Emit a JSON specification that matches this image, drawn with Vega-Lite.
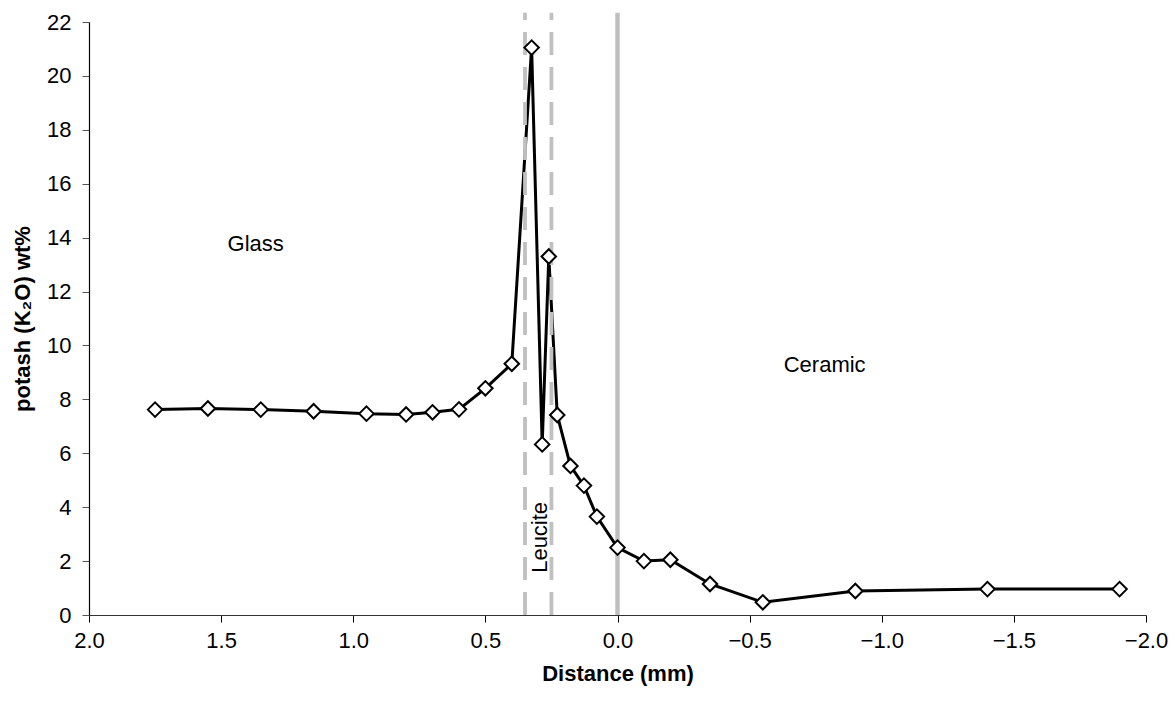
{
  "$schema": "https://vega.github.io/schema/vega-lite/v6.json",
  "width": 1057,
  "height": 593,
  "autosize": {"type": "none"},
  "padding": {"left": 89, "top": 22, "right": 30, "bottom": 89},
  "background": "white",
  "config": {
    "view": {"stroke": null},
    "font": "Liberation Sans",
    "text": {"font": "Liberation Sans"}
  },
  "datasets": {
    "points": [
      {"x": 1.75, "y": 7.62},
      {"x": 1.55, "y": 7.66},
      {"x": 1.35, "y": 7.62},
      {"x": 1.15, "y": 7.56},
      {"x": 0.95, "y": 7.47},
      {"x": 0.8, "y": 7.44},
      {"x": 0.7, "y": 7.52},
      {"x": 0.6, "y": 7.63},
      {"x": 0.5, "y": 8.41},
      {"x": 0.4, "y": 9.32},
      {"x": 0.325, "y": 21.05},
      {"x": 0.285, "y": 6.33},
      {"x": 0.26, "y": 13.3},
      {"x": 0.228, "y": 7.42},
      {"x": 0.178, "y": 5.53},
      {"x": 0.127, "y": 4.8},
      {"x": 0.078, "y": 3.65},
      {"x": 0.0, "y": 2.5},
      {"x": -0.1, "y": 2.0},
      {"x": -0.2, "y": 2.05},
      {"x": -0.35, "y": 1.15},
      {"x": -0.55, "y": 0.47},
      {"x": -0.9, "y": 0.89},
      {"x": -1.4, "y": 0.96},
      {"x": -1.9, "y": 0.96}
    ],
    "rules": [
      {"x": 0.35, "y": 0, "y2": 22.34, "kind": "dashed"},
      {"x": 0.25, "y": 0, "y2": 22.34, "kind": "dashed"},
      {"x": 0.0, "y": 0, "y2": 22.34, "kind": "solid"}
    ],
    "labels": [
      {"x": 1.369, "y": 13.52, "label": "Glass"},
      {"x": -0.784, "y": 9.03, "label": "Ceramic"}
    ],
    "vlabels": [
      {"x": 0.265, "y": 2.88, "label": "Leucite"}
    ]
  },
  "encoding": {
    "x": {
      "field": "x",
      "type": "quantitative",
      "scale": {"domain": [-2, 2], "reverse": true, "nice": false, "zero": false},
      "axis": {
        "title": "Distance (mm)",
        "values": [-2, -1.5, -1, -0.5, 0, 0.5, 1, 1.5, 2],
        "format": ".1f",
        "grid": false,
        "labelFlush": false,
        "labelOverlap": false,
        "labelFont": "Liberation Sans",
        "labelFontSize": 22,
        "labelColor": "#000000",
        "labelPadding": 8,
        "tickSize": 7,
        "tickColor": "#000000",
        "domainColor": "#333333",
        "domainWidth": 1.2,
        "titleFont": "Liberation Sans",
        "titleFontSize": 22,
        "titleFontWeight": "bold",
        "titleColor": "#000000",
        "titlePadding": 12
      }
    },
    "y": {
      "field": "y",
      "type": "quantitative",
      "scale": {"domain": [0, 22], "nice": false, "zero": true},
      "axis": {
        "title": "potash (K₂O) wt%",
        "values": [0, 2, 4, 6, 8, 10, 12, 14, 16, 18, 20, 22],
        "grid": false,
        "labelFlush": false,
        "labelOverlap": false,
        "labelFont": "Liberation Sans",
        "labelFontSize": 22,
        "labelColor": "#000000",
        "labelPadding": 11,
        "tickSize": 7,
        "tickColor": "#555555",
        "domainColor": "#000000",
        "domainWidth": 1.2,
        "titleFont": "Liberation Sans",
        "titleFontSize": 22,
        "titleFontWeight": "bold",
        "titleColor": "#000000",
        "titlePadding": 12
      }
    }
  },
  "layer": [
    {
      "data": {"name": "points"},
      "mark": {"type": "line", "color": "#000000", "strokeWidth": 3, "clip": false},
      "encoding": {}
    },
    {
      "data": {"name": "rules"},
      "transform": [{"filter": "datum.kind === 'dashed'"}],
      "mark": {"type": "rule", "color": "#C0C0C0", "strokeWidth": 3.8, "strokeDash": [23, 12]},
      "encoding": {"y2": {"field": "y2"}}
    },
    {
      "data": {"name": "rules"},
      "transform": [{"filter": "datum.kind === 'solid'"}],
      "mark": {"type": "rule", "color": "#C0C0C0", "strokeWidth": 4.5},
      "encoding": {"y2": {"field": "y2"}}
    },
    {
      "data": {"name": "points"},
      "mark": {"type": "point", "shape": "diamond", "size": 210, "filled": true, "fill": "#FFFFFF", "stroke": "#000000", "strokeWidth": 2, "opacity": 1},
      "encoding": {}
    },
    {
      "data": {"name": "labels"},
      "mark": {"type": "text", "fontSize": 22, "color": "#000000", "align": "center", "baseline": "alphabetic"},
      "encoding": {"text": {"field": "label"}}
    },
    {
      "data": {"name": "vlabels"},
      "mark": {"type": "text", "fontSize": 22, "color": "#000000", "align": "center", "baseline": "alphabetic", "angle": 270},
      "encoding": {"text": {"field": "label"}}
    }
  ]
}
